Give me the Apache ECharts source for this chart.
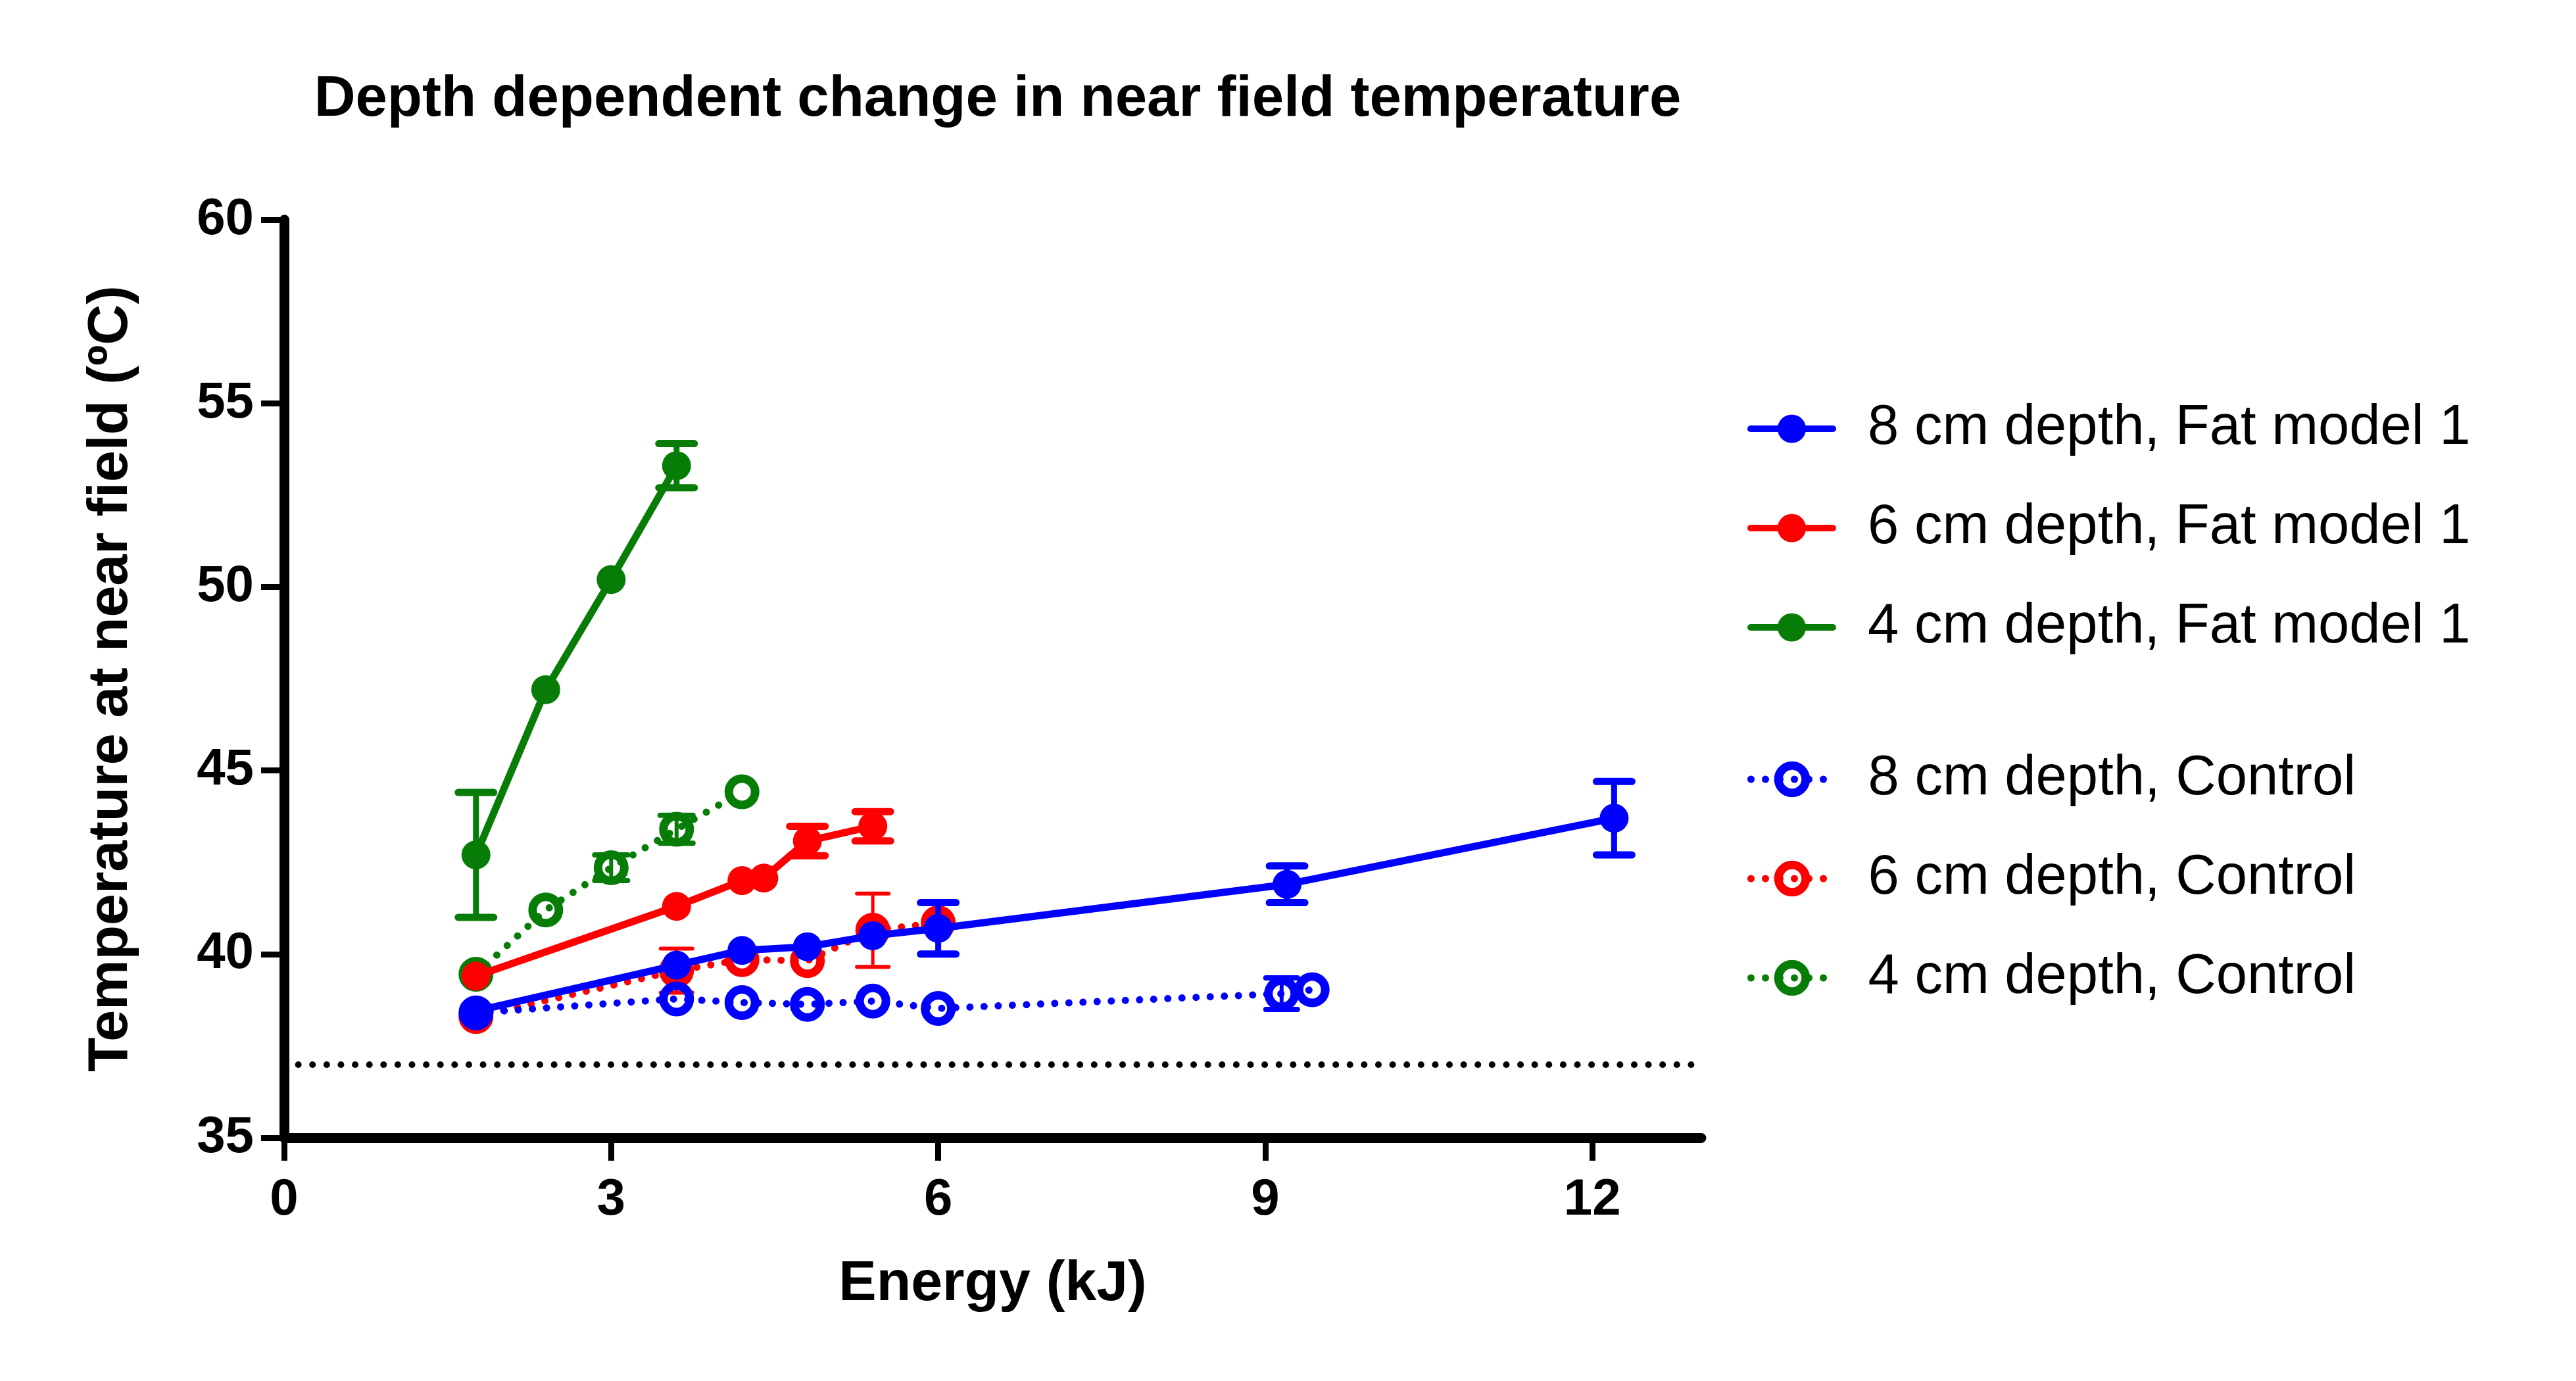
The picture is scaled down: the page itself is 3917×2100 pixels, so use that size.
<!DOCTYPE html>
<html>
<head>
<meta charset="utf-8">
<script src="https://cdn.jsdelivr.net/npm/echarts@6/dist/echarts.min.js"></script>
<style>
html,body{margin:0;padding:0;background:#fff;}
#chart{width:3917px;height:2100px;}
</style>
</head>
<body>
<div id="chart"></div>
<script>
// ---------- data ----------
const titleText = 'Depth dependent change in near field temperature';
const xAxisTitle = 'Energy (kJ)';
const yAxisTitle = 'Temperature at near field (ºC)';
const xTicks = [0, 3, 6, 9, 12];
const yTicks = [35, 40, 45, 50, 55, 60];
const baselineTemp = 37;

const namesFat = ['8 cm depth, Fat model 1', '6 cm depth, Fat model 1', '4 cm depth, Fat model 1'];
const namesCtl = ['8 cm depth, Control', '6 cm depth, Control', '4 cm depth, Control'];

// error values of 0 = error bar hidden behind the marker
const blueFatX = [1.76, 3.6, 4.2, 4.8, 5.4, 6.0, 9.2, 12.2];
const blueFatY = [38.45, 39.7, 40.1, 40.2, 40.5, 40.7, 41.9, 43.7];
const blueFatErr = [0, 0, 0, 0, 0, 0.7, 0.5, 1.0];

const redFatX = [1.76, 3.6, 4.2, 4.4, 4.8, 5.4];
const redFatY = [39.4, 41.3, 42.0, 42.07, 43.08, 43.48];
const redFatErr = [0, 0, 0, 0, 0.4, 0.4];

const greenFatX = [1.76, 2.4, 3.0, 3.6];
const greenFatY = [42.7, 47.2, 50.2, 53.3];
const greenFatErr = [1.7, 0, 0, 0.6];

const blueCtlX = [1.76, 3.6, 4.2, 4.8, 5.4, 6.0, 9.15, 9.43];
const blueCtlY = [38.4, 38.78, 38.68, 38.63, 38.72, 38.52, 38.92, 39.03];
const blueCtlErr = [0, 0, 0, 0, 0, 0, 0.43, 0];

const redCtlX = [1.76, 3.6, 4.2, 4.8, 5.4, 6.0];
const redCtlY = [38.3, 39.55, 39.85, 39.82, 40.65, 40.85];
const redCtlErr = [0, 0.6, 0, 0, 1.0, 0];

const greenCtlX = [1.76, 2.4, 3.0, 3.6, 4.2];
const greenCtlY = [39.45, 41.2, 42.35, 43.4, 44.42];
const greenCtlErr = [0, 0, 0.35, 0.38, 0];

// ---------- styles ----------
const BLUE = '#0000ff', RED = '#ff0000', GREEN = '#077d07';
const FONT = "'Liberation Sans', Arial, Helvetica, sans-serif";
const DOTS = [0.01, 21.5];

function pts(xs, ys) { return xs.map((x, i) => [x, ys[i]]); }
function errRows(xs, ys, es) { return xs.map((x, i) => [x, ys[i], es[i]]); }

function fatSeries(name, xs, ys, color) {
  return {
    name, type: 'line', data: pts(xs, ys), z: 5,
    symbol: 'circle', symbolSize: 44,
    lineStyle: { color, width: 11 },
    itemStyle: { color },
    emphasis: { disabled: true }, animation: false
  };
}
function ctlSeries(name, xs, ys, color) {
  return {
    name, type: 'line', data: pts(xs, ys), z: 3,
    symbol: 'circle', symbolSize: 40,
    lineStyle: { color, width: 11, type: DOTS, cap: 'round' },
    itemStyle: { color: 'rgba(0,0,0,0)', borderColor: color, borderWidth: 13 },
    emphasis: { disabled: true }, animation: false
  };
}
function errSeries(xs, ys, es, color, stemW, capW, capHalf, z) {
  return {
    type: 'custom', z, silent: true, animation: false,
    data: errRows(xs, ys, es),
    renderItem: function (params, api) {
      const x = api.value(0), y = api.value(1), e = api.value(2);
      if (!(e > 0)) return { type: 'group', children: [] };
      const top = api.coord([x, y + e]);
      const bot = api.coord([x, y - e]);
      const st = { stroke: color, lineWidth: stemW, lineCap: 'butt' };
      const cs = { stroke: color, lineWidth: capW, lineCap: 'round' };
      return {
        type: 'group',
        children: [
          { type: 'line', shape: { x1: top[0], y1: top[1], x2: bot[0], y2: bot[1] }, style: st },
          { type: 'line', shape: { x1: top[0] - capHalf, y1: top[1], x2: top[0] + capHalf, y2: top[1] }, style: cs },
          { type: 'line', shape: { x1: bot[0] - capHalf, y1: bot[1], x2: bot[0] + capHalf, y2: bot[1] }, style: cs }
        ]
      };
    }
  };
}

const chart = echarts.init(document.getElementById('chart'), null, { renderer: 'canvas' });

const legendCommon = {
  orient: 'vertical', left: 2652,
  itemWidth: 125, itemHeight: 54, itemGap: 51,
  selectedMode: false,
  textStyle: { fontFamily: FONT, fontSize: 85, color: '#000', lineHeight: 100, padding: [0, 0, 0, 48] }
};

const option = {
  backgroundColor: '#fff',
  animation: false,
  title: {
    text: titleText, left: 1512, top: 104, textAlign: 'center',
    textStyle: { fontFamily: FONT, fontSize: 87, fontWeight: 'bold', color: '#000' }
  },
  legend: [
    Object.assign({}, legendCommon, {
      top: 597, data: namesFat,
      lineStyle: { width: 10, type: 'solid', cap: 'round' },
      itemStyle: { borderWidth: 0 }
    }),
    Object.assign({}, legendCommon, {
      top: 1130, data: namesCtl,
      itemHeight: 52,
      lineStyle: { width: 11, type: [0.01, 22], cap: 'round' },
      itemStyle: { borderWidth: 13 }
    })
  ],
  grid: { left: 432, right: 1330, top: 334, bottom: 370, containLabel: false },
  xAxis: {
    type: 'value', min: 0, max: 13, interval: 3,
    name: xAxisTitle, nameLocation: 'middle', nameGap: 180,
    nameTextStyle: { fontFamily: FONT, fontSize: 86, fontWeight: 'bold', color: '#000' },
    axisLine: { show: true, onZero: false, lineStyle: { color: '#000', width: 15 } },
    axisTick: { show: true, length: 35, customValues: xTicks, lineStyle: { color: '#000', width: 9 } },
    axisLabel: { customValues: xTicks, fontFamily: FONT, fontSize: 78, fontWeight: 'bold', color: '#000', margin: 56 },
    splitLine: { show: false }
  },
  yAxis: {
    type: 'value', min: 35, max: 60, interval: 5,
    name: yAxisTitle, nameLocation: 'middle', nameGap: 220, nameRotate: 90,
    nameTextStyle: { fontFamily: FONT, fontSize: 86, fontWeight: 'bold', color: '#000' },
    axisLine: { show: true, onZero: false, lineStyle: { color: '#000', width: 15 } },
    axisTick: { show: true, length: 35, customValues: yTicks, lineStyle: { color: '#000', width: 9 } },
    axisLabel: { customValues: yTicks, fontFamily: FONT, fontSize: 78, fontWeight: 'bold', color: '#000', margin: 46 },
    splitLine: { show: false }
  },
  series: [
    // controls (drawn underneath)
    errSeries(greenCtlX, greenCtlY, greenCtlErr, GREEN, 6, 8, 25, 2),
    errSeries(redCtlX, redCtlY, redCtlErr, RED, 5, 6, 24, 2),
    errSeries(blueCtlX, blueCtlY, blueCtlErr, BLUE, 6, 8, 24, 2),
    ctlSeries(namesCtl[2], greenCtlX, greenCtlY, GREEN),
    ctlSeries(namesCtl[1], redCtlX, redCtlY, RED),
    Object.assign(ctlSeries(namesCtl[0], blueCtlX, blueCtlY, BLUE), {
      markLine: {
        silent: true, symbol: ['none', 'none'], animation: false,
        label: { show: false },
        lineStyle: { color: '#000', width: 10, type: [0.01, 21.6], cap: 'round' },
        data: [{ yAxis: baselineTemp }]
      }
    }),
    // fat model series
    errSeries(greenFatX, greenFatY, greenFatErr, GREEN, 9, 11, 27, 4),
    errSeries(redFatX, redFatY, redFatErr, RED, 9, 11, 27, 4),
    errSeries(blueFatX, blueFatY, blueFatErr, BLUE, 9, 11, 27, 4),
    fatSeries(namesFat[2], greenFatX, greenFatY, GREEN),
    fatSeries(namesFat[1], redFatX, redFatY, RED),
    fatSeries(namesFat[0], blueFatX, blueFatY, BLUE)
  ]
};
chart.setOption(option);
</script>
</body>
</html>
